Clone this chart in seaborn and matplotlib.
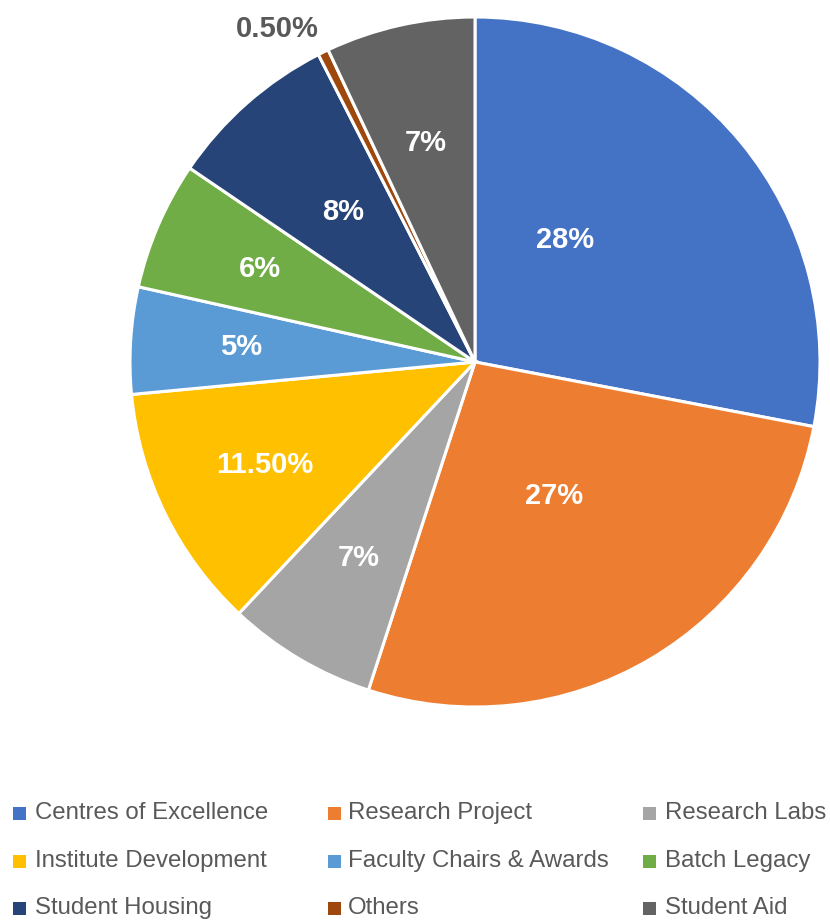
import numpy as np
import matplotlib
matplotlib.use("Agg")
import matplotlib.pyplot as plt
import seaborn as sns
from matplotlib.patches import Rectangle

sns.set_theme(style="white")

categories = ["Centres of Excellence", "Research Project", "Research Labs",
              "Institute Development", "Faculty Chairs & Awards", "Batch Legacy",
              "Student Housing", "Others", "Student Aid"]
values = [28, 27, 7, 11.5, 5, 6, 8, 0.5, 7]
value_labels = ["28%", "27%", "7%", "11.50%", "5%", "6%", "8%", "0.50%", "7%"]
colors = ["#4472C4", "#ED7D31", "#A5A5A5", "#FFC000", "#5B9BD5", "#70AD47",
          "#264478", "#9E480E", "#636363"]

# label placement style (radius as fraction of pie radius, angular shift in degrees)
label_r = [0.44, 0.45, 0.66, 0.68, 0.68, 0.68, 0.58, None, 0.65]
label_shift = [14, 0, 0, 0, 0, 0, 0, 0, 0]

W, H = 830, 924
fig = plt.figure(figsize=(W / 100, H / 100), dpi=100)
ax = fig.add_axes([130 / W, 1 - 707 / H, 690 / W, 690 / H])

wedges, _ = ax.pie(values, colors=colors, startangle=90, counterclock=False,
                   wedgeprops=dict(edgecolor="white", linewidth=2.2))
ax.set_xlim(-1, 1)
ax.set_ylim(-1, 1)
ax.set_aspect("equal")
ax.axis("off")

for w, lab, r, sh in zip(wedges, value_labels, label_r, label_shift):
    ang = np.deg2rad((w.theta1 + w.theta2) / 2 + sh)
    if r is None:
        # outside-end label: anchor the label box corner just outside the rim
        ro = 1.03
        ax.text(ro * np.cos(ang), ro * np.sin(ang), lab, ha="right", va="bottom",
                fontsize=21, fontweight="bold", color="#595959",
                family="Liberation Sans")
    else:
        ax.text(r * np.cos(ang), r * np.sin(ang), lab, ha="center", va="center",
                fontsize=21, fontweight="bold", color="white",
                family="Liberation Sans")

# legend: 3 columns x 3 rows, row-major order
col_marker_x = [13, 328, 643]
col_text_x = [35, 348, 665]
row_y = [813, 861, 908]
sq = 13
for i, (name, c) in enumerate(zip(categories, colors)):
    r, cidx = divmod(i, 3)
    x0 = col_marker_x[cidx]
    y0 = row_y[r]
    fig.add_artist(Rectangle((x0 / W, 1 - (y0 + sq / 2) / H), sq / W, sq / H,
                             transform=fig.transFigure, facecolor=c,
                             edgecolor="none"))
    fig.text(col_text_x[cidx] / W, 1 - y0 / H, name, ha="left", va="center",
             fontsize=17.3, color="#595959", family="Liberation Sans")

fig.savefig("out.png", dpi=100)
